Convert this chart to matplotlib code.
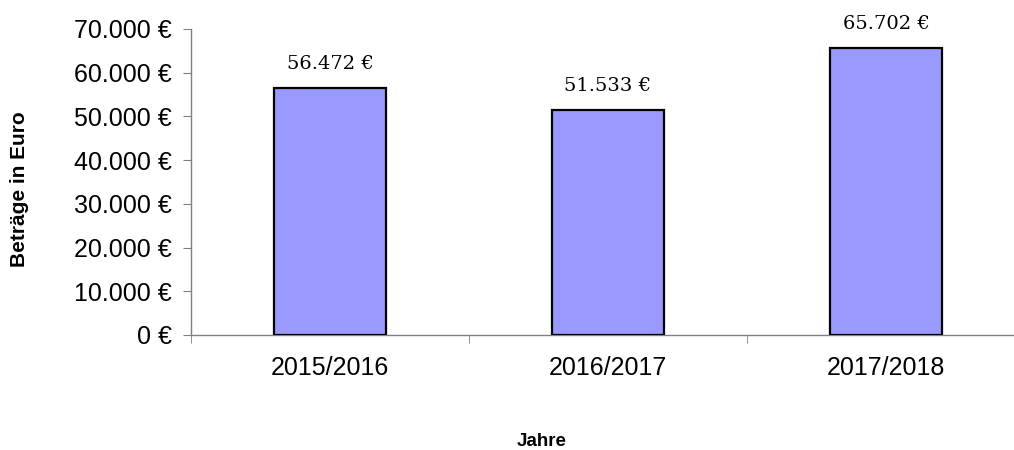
import matplotlib
matplotlib.use('Agg')
import matplotlib.pyplot as plt
import numpy as np

jahre = ['2015/2016', '2016/2017', '2017/2018']
betraege = [56472, 51533, 65702]
y_ticks = [0, 10000, 20000, 30000, 40000, 50000, 60000, 70000]


def euro(v):
    return '{:,.0f} €'.format(v).replace(',', '.')


plt.rcParams['font.family'] = ['Liberation Sans', 'DejaVu Sans']

fig = plt.figure(figsize=(10.14, 4.5), dpi=100)
ax = fig.add_axes([191 / 1014, 115 / 450, 834 / 1014, 306 / 450])

x = np.arange(len(jahre))
bars = ax.bar(x, betraege, width=0.403, color='#9999FF', edgecolor='black', linewidth=1.6)

for xi, v in zip(x, betraege):
    ax.annotate(euro(v), (xi, v), xytext=(0, 13.5), textcoords='offset points',
                ha='center', va='baseline', fontsize=14, family='DejaVu Serif')

ax.set_xlim(-0.5, 2.5)
ax.set_ylim(0, 70000)
ax.set_yticks(y_ticks)
ax.set_yticklabels([euro(v) for v in y_ticks])
ax.set_xticks(x)
ax.set_xticklabels(jahre)
ax.set_xticks([-0.5, 0.5, 1.5, 2.5], minor=True)

ax.tick_params(axis='y', length=6, color='#808080', labelsize=18, pad=8)
ax.tick_params(axis='x', which='major', length=0, labelsize=18, pad=15)
ax.tick_params(axis='x', which='minor', length=6, color='#808080')

for s in ['top', 'right']:
    ax.spines[s].set_visible(False)
for s in ['left', 'bottom']:
    ax.spines[s].set_color('#808080')
    ax.spines[s].set_linewidth(1.0)
ax.spines['bottom'].set_zorder(0)

fig.text(20 / 1014, 1 - 189 / 450, 'Beträge in Euro', rotation=90, ha='center', va='center',
         fontsize=15, fontweight='bold')
fig.text(542 / 1014, 1 - 442 / 450, 'Jahre', ha='center', va='center',
         fontsize=13.5, fontweight='bold')

fig.savefig('out.png', dpi=100)
